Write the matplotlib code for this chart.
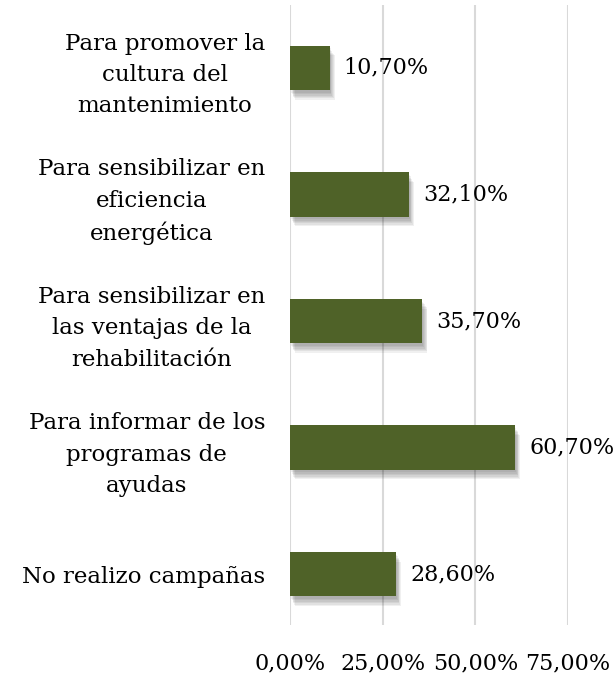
import matplotlib
matplotlib.use("Agg")
import matplotlib.pyplot as plt
import matplotlib.patheffects as pe

categories = [
    "Para promover la\ncultura del\nmantenimiento",
    "Para sensibilizar en\neficiencia\nenergética",
    "Para sensibilizar en\nlas ventajas de la\nrehabilitación",
    "Para informar de los\nprogramas de\nayudas",
    "No realizo campañas",
]
values = [10.70, 32.10, 35.70, 60.70, 28.60]
ticks = [0, 25, 50, 75]

plt.rcParams['font.family'] = ['DejaVu Serif']

fig = plt.figure(figsize=(6.16, 6.81), dpi=100)
ax = fig.add_axes([0.4708, 0.082, 0.4513, 0.911])

pos = list(range(len(values)))
# soft drop shadow made from a few offset translucent copies
shadow = [pe.SimplePatchShadow(offset=(d * 0.6, -d - 1), shadow_rgbFace='black', alpha=0.06)
          for d in (1, 2, 3, 4, 5, 6)]
bars = ax.barh(pos, values, height=0.35, color='#4F6228', zorder=3)
for b in bars:
    b.set_path_effects(shadow + [pe.Normal()])

for p, v in zip(pos, values):
    ax.text(v + 3.8, p, f"{v:.2f}%".replace('.', ','), va='center', ha='left',
            fontsize=16, color='black')

ax.set_xlim(0, 75)
ax.set_ylim(4.403, -0.498)
ax.set_xticks(ticks)
ax.set_xticklabels([f"{t:.2f}%".replace('.', ',') for t in ticks], fontsize=16)
ax.set_yticks(pos)
ax.set_yticklabels(categories, fontsize=16.5, multialignment='center', linespacing=1.55)
ax.tick_params(axis='both', length=0)
ax.tick_params(axis='x', pad=20)
ax.tick_params(axis='y', pad=18)
ax.grid(axis='x', color='#D9D9D9', linewidth=1.5, zorder=0)
for s in ax.spines.values():
    s.set_visible(False)

fig.savefig('out.png', dpi=100)
